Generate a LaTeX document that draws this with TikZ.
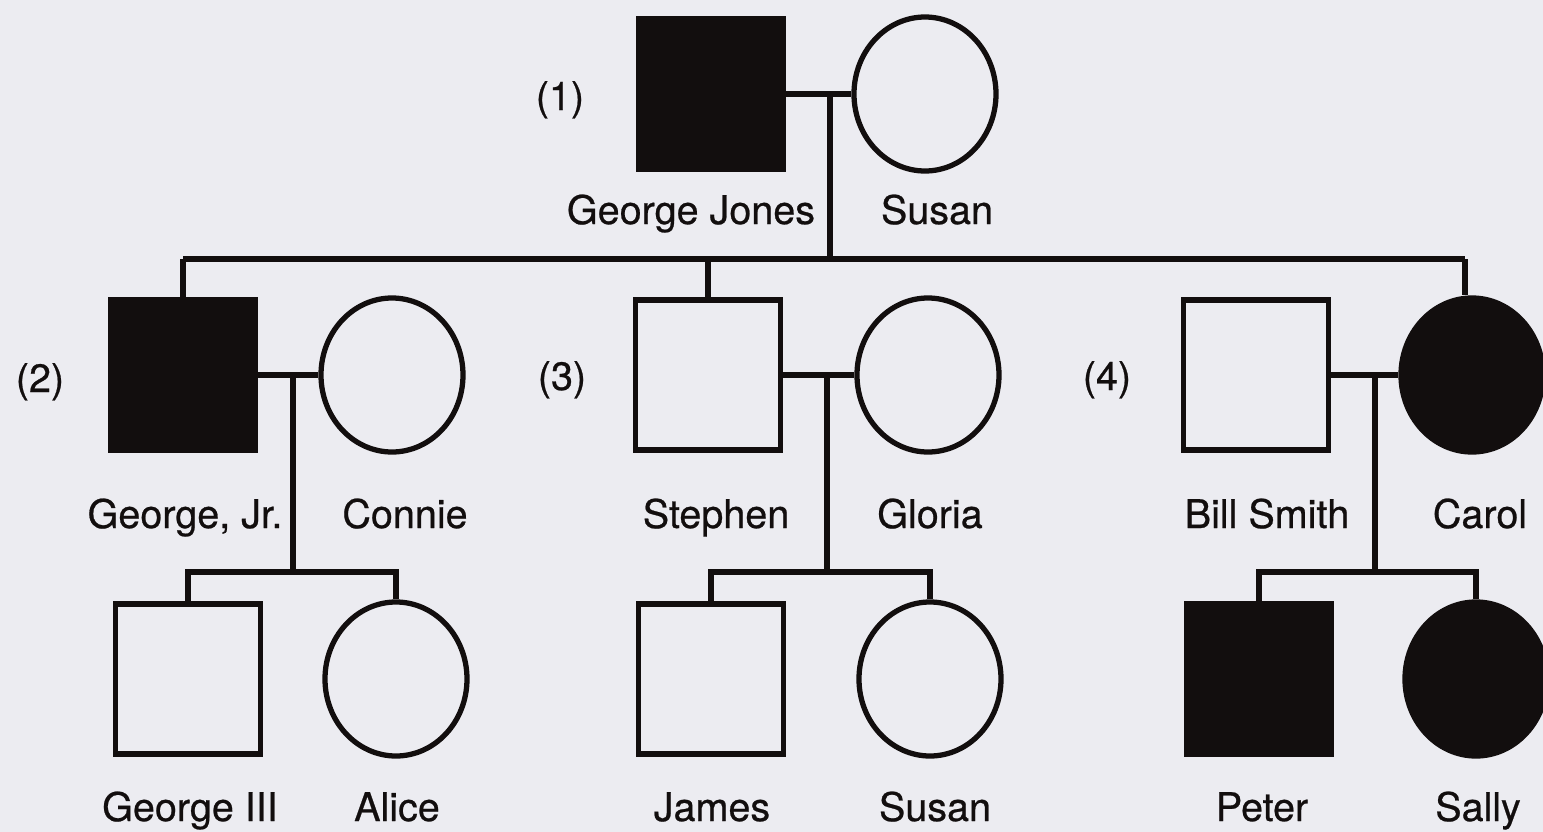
\documentclass[tikz,border=0pt]{standalone}
\usepackage{fontspec}
\setmainfont{TeX Gyre Heros}
\newfontfamily\lblfont{TeX Gyre Heros}[FakeBold=0.6]
\usetikzlibrary{shapes.geometric}
\definecolor{bg}{RGB}{236,236,241}
\definecolor{ink}{RGB}{18,14,14}
\newlength{\unitpx}
\setlength{\unitpx}{0.02cm}
\tikzset{
  line/.style={draw=ink, line width=3pt},
  male/.style={rectangle, draw=ink, line width=3pt, minimum width=145\unitpx, minimum height=150\unitpx, inner sep=0pt},
  female/.style={ellipse, draw=ink, line width=3pt, minimum width=142\unitpx, minimum height=154\unitpx, inner sep=0pt},
  aff/.style={fill=ink},
  unaff/.style={fill=bg},
  lbl/.style={font=\lblfont\fontsize{22.5}{26}\selectfont, text=ink, inner sep=0pt, anchor=base}
}
\begin{document}
\begin{tikzpicture}[x=0.02cm, y=-0.02cm]
\fill[bg] (0,0) rectangle (1543,832);
\useasboundingbox (0,0) rectangle (1543,832);
% Generation I
\node[male, aff] (gj) at (711,94) {};
\node[female, unaff] (su) at (925,94) {};
\node[lbl] (l1) at (560,110) {(1)};
\node[lbl] (ngj) at (691,224) {George Jones};
\node[lbl] (nsu) at (937,224) {Susan};
\coordinate (m1) at (830,94);
\coordinate (s1) at (830,259);
\draw[line] (gj) -- (su);
\draw[line] (m1) -- (s1);
% Generation II
\node[male, aff] (gjr) at (183,375) {};
\node[female, unaff] (co) at (392,375) {};
\node[male, unaff] (st) at (708,375) {};
\node[female, unaff] (gl) at (928,375) {};
\node[male, unaff] (bs) at (1256,375) {};
\node[female, aff] (ca) at (1472,375) {};
\coordinate (ccar) at (1465,259);
\draw[line] (gjr.north |- s1) -- (ccar);
\draw[line] (gjr.north |- s1) -- (gjr.north);
\draw[line] (st.north |- s1) -- (st.north);
\draw[line] (ccar) -- (ccar |- ca.north);
\node[lbl] (l2) at (40,392) {(2)};
\node[lbl] (l3) at (562,390) {(3)};
\node[lbl] (l4) at (1107,390) {(4)};
\node[lbl] (ngjr) at (185,528) {George, Jr.};
\node[lbl] (nco) at (405,528) {Connie};
\node[lbl] (nst) at (716,528) {Stephen};
\node[lbl] (ngl) at (930,528) {Gloria};
\node[lbl] (nbs) at (1267,528) {Bill Smith};
\node[lbl] (nca) at (1480,528) {Carol};
% marriages II
\draw[line] (gjr) -- (co);
\draw[line] (st) -- (gl);
\draw[line] (bs) -- (ca);
\coordinate (m2) at (293,375);
\coordinate (m3) at (827,375);
\coordinate (m4) at (1375,375);
\coordinate (s2) at (293,572);
\coordinate (s3) at (827,572);
\coordinate (s4) at (1375,572);
\draw[line] (m2) -- (s2);
\draw[line] (m3) -- (s3);
\draw[line] (m4) -- (s4);
% Generation III
\node[male, unaff] (g3) at (188,679) {};
\node[female, unaff] (al) at (396,679) {};
\node[male, unaff] (ja) at (711,679) {};
\node[female, unaff] (su2) at (930,679) {};
\node[male, aff] (pe) at (1259,679) {};
\node[female, aff] (sa) at (1476,679) {};
\draw[line] (g3.north) -- (g3.north |- s2) -- (al.north |- s2) -- (al.north);
\draw[line] (ja.north) -- (ja.north |- s3) -- (su2.north |- s3) -- (su2.north);
\draw[line] (pe.north) -- (pe.north |- s4) -- (sa.north |- s4) -- (sa.north);
\node[lbl] (ng3) at (190,821) {George III};
\node[lbl] (nal) at (397,821) {Alice};
\node[lbl] (nja) at (712,821) {James};
\node[lbl] (nsu2) at (935,821) {Susan};
\node[lbl] (npe) at (1262,821) {Peter};
\node[lbl] (nsa) at (1478,821) {Sally};
\end{tikzpicture}
\end{document}
